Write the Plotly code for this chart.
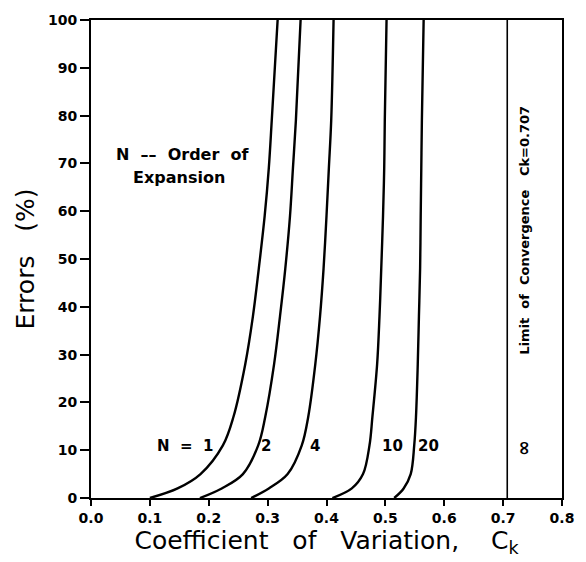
import plotly.graph_objects as go

# Errors (%) levels at which each curve was read
err_levels = [0, 2, 5, 11, 17, 28, 38, 48, 59, 69, 79, 100]

# Coefficient of variation Ck for each order of expansion N
ck_n1 = [0.100, 0.147, 0.186, 0.224, 0.242, 0.262, 0.275, 0.285, 0.295, 0.302, 0.307, 0.317]
ck_n2 = [0.185, 0.222, 0.258, 0.284, 0.296, 0.311, 0.321, 0.330, 0.338, 0.343, 0.348, 0.356]
ck_n4 = [0.272, 0.302, 0.334, 0.358, 0.369, 0.381, 0.389, 0.395, 0.400, 0.404, 0.408, 0.412]
ck_n10 = [0.410, 0.443, 0.462, 0.473, 0.478, 0.486, 0.490, 0.493, 0.496, 0.498, 0.499, 0.502]
ck_n20 = [0.515, 0.531, 0.543, 0.549, 0.552, 0.555, 0.557, 0.559, 0.560, 0.561, 0.562, 0.565]

# Limit of convergence
limit_ck = 0.707
limit_err = [0, 100]

x_ticks = [0.0, 0.1, 0.2, 0.3, 0.4, 0.5, 0.6, 0.7, 0.8]
y_ticks = [0, 10, 20, 30, 40, 50, 60, 70, 80, 90, 100]

curves = [("1", ck_n1), ("2", ck_n2), ("4", ck_n4), ("10", ck_n10), ("20", ck_n20)]

fig = go.Figure()
for name, xs in curves:
    fig.add_trace(go.Scatter(x=xs, y=err_levels, mode="lines",
                             line=dict(color="black", width=2.4, shape="spline", smoothing=1.0),
                             name="N=" + name, showlegend=False, hoverinfo="skip"))
fig.add_trace(go.Scatter(x=[limit_ck, limit_ck], y=limit_err, mode="lines",
                         line=dict(color="black", width=1.6), showlegend=False, hoverinfo="skip"))

FONT = "DejaVu Sans"
tick_font = dict(family=FONT, size=14, color="black")
lab_font = dict(family=FONT, size=15, color="black")

ann = [
    dict(x=0.160, y=10.8, text="<b>N  =  1</b>"),
    dict(x=0.297, y=10.8, text="<b>2</b>"),
    dict(x=0.380, y=10.8, text="<b>4</b>"),
    dict(x=0.512, y=10.8, text="<b>10</b>"),
    dict(x=0.574, y=10.8, text="<b>20</b>"),
    dict(x=0.156, y=71.9, text="<b>N  ––  Order  of</b>", font=dict(family=FONT, size=16, color="black")),
    dict(x=0.150, y=67.1, text="<b>Expansion</b>", font=dict(family=FONT, size=16, color="black")),
]
annotations = []
for a in ann:
    a.setdefault("font", lab_font)
    annotations.append(dict(xref="x", yref="y", showarrow=False, **a))
annotations.append(dict(xref="x", yref="y", x=0.735, y=10.4, text="<b>∞</b>", textangle=-90,
                        showarrow=False, font=dict(family=FONT, size=19, color="black")))
annotations.append(dict(xref="x", yref="y", x=0.736, y=56, text="<b>Limit  of  Convergence   Ck=0.707</b>",
                        textangle=-90, showarrow=False, font=dict(family=FONT, size=13, color="black")))

fig.update_layout(
    width=586, height=562,
    margin=dict(l=91, r=12, t=14, b=64),
    paper_bgcolor="white", plot_bgcolor="white",
    annotations=annotations,
    xaxis=dict(range=[0, 0.8], tickvals=x_ticks, ticktext=["<b>%.1f</b>" % v for v in x_ticks],
               showgrid=False, zeroline=False, showline=True, mirror=True, linecolor="black", linewidth=2,
               ticks="outside", ticklen=6, tickwidth=1.5, tickcolor="black", tickfont=tick_font,
               title=dict(text="Coefficient   of   Variation,    C<sub>k</sub>", standoff=0,
                          font=dict(family=FONT, size=25, color="black"))),
    yaxis=dict(range=[0, 100], tickvals=y_ticks, ticktext=["<b>%d</b>" % v for v in y_ticks],
               showgrid=False, zeroline=False, showline=True, mirror=True, linecolor="black", linewidth=2,
               ticks="outside", ticklen=9, tickwidth=1.5, tickcolor="black", tickfont=tick_font,
               title=dict(text="Errors   (%)", standoff=6,
                          font=dict(family=FONT, size=25, color="black"))),
)

fig.write_html("out.html")
